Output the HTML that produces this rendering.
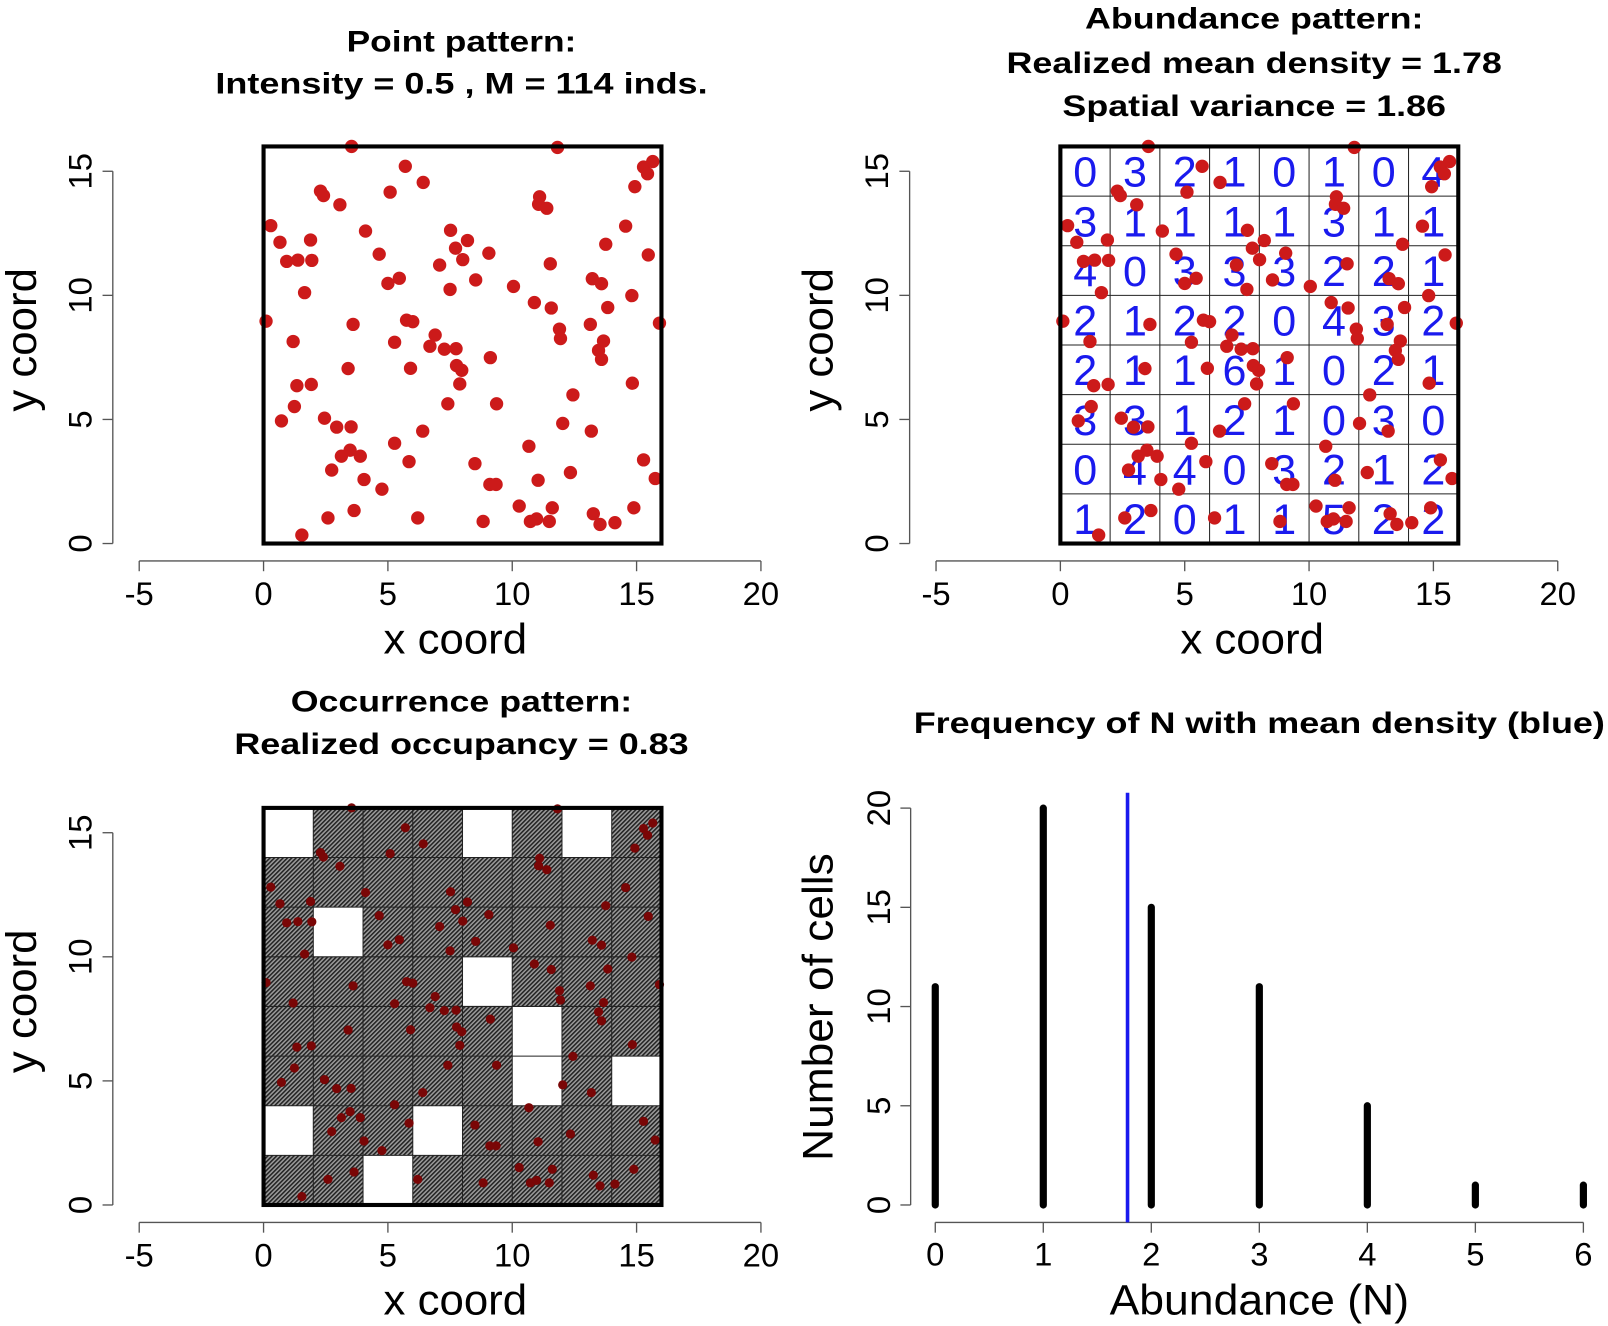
<!DOCTYPE html>
<html><head><meta charset="utf-8"><style>
html,body{margin:0;padding:0;background:#fff}
svg{display:block}
text{font-family:"Liberation Sans",Arial,sans-serif}
.t{font-weight:bold;font-size:29px}
.tick{font-size:32px}
.lab{font-size:42px}
</style></head><body>
<svg id="fig" width="1608" height="1326" viewBox="0 0 1568 1293" xmlns="http://www.w3.org/2000/svg">
<defs>
<pattern id="hatch" width="3" height="3" patternUnits="userSpaceOnUse" patternTransform="rotate(45)">
<rect width="3" height="3" fill="#9c9c9c"/><rect width="1.5" height="3" fill="#222"/>
</pattern>
</defs>
<g id="root"></g>
</svg>
<script>
// ---- data ----
const ptX=[3.54,11.82,5.70,6.42,2.29,2.41,5.09,3.07,11.10,11.06,11.39,15.28,15.44,15.65,14.93,0.29,14.56,0.66,1.89,0.93,1.38,1.94,4.10,4.65,7.52,8.20,7.72,8.01,7.08,9.06,11.53,13.76,15.47,1.65,5.0,5.46,8.53,7.5,10.05,13.22,13.59,14.81,10.89,11.57,13.84,0.10,3.60,5.75,6.0,15.92,11.9,11.94,13.14,13.67,13.47,13.59,1.19,5.27,6.90,6.69,7.27,7.74,9.12,3.40,5.91,7.76,7.97,7.89,1.34,1.92,14.83,12.44,7.41,9.37,1.24,0.72,2.45,2.94,3.52,12.03,13.18,6.40,5.27,10.67,3.13,3.48,3.89,15.28,2.74,4.04,5.85,8.50,11.04,12.34,9.10,9.35,4.76,15.75,10.28,11.61,14.89,3.64,2.59,6.2,8.83,10.73,10.98,11.49,13.26,13.53,14.13,1.54];
const ptY=[16.0,15.96,15.2,14.55,14.2,14.02,14.16,13.65,13.97,13.67,13.51,15.17,14.9,15.39,14.38,12.81,12.79,12.14,12.23,11.37,11.42,11.41,12.59,11.66,12.62,12.21,11.9,11.44,11.22,11.7,11.27,12.06,11.63,10.11,10.48,10.69,10.62,10.24,10.36,10.67,10.47,9.99,9.71,9.49,9.51,8.96,8.83,9.0,8.94,8.88,8.64,8.26,8.83,8.16,7.78,7.42,8.14,8.11,8.4,7.95,7.83,7.85,7.49,7.05,7.06,7.17,6.98,6.43,6.36,6.41,6.46,5.99,5.63,5.63,5.52,4.94,5.05,4.69,4.70,4.84,4.53,4.53,4.04,3.92,3.52,3.76,3.52,3.37,2.96,2.58,3.30,3.22,2.55,2.86,2.38,2.38,2.19,2.62,1.51,1.44,1.44,1.33,1.03,1.03,0.89,0.89,0.99,0.89,1.20,0.77,0.84,0.34];
const counts=[
[0,3,2,1,0,1,0,4],
[3,1,1,1,1,3,1,1],
[4,0,3,3,3,2,2,1],
[2,1,2,2,0,4,3,2],
[2,1,1,6,1,0,2,1],
[3,3,1,2,1,0,3,0],
[0,4,4,0,3,2,1,2],
[1,2,0,1,1,5,2,2]];
const abundCats=[0,1,2,3,4,5,6];
const abundFreq=[11,20,15,11,5,1,1];
const meanDensity=1.78;
const coordTicks=[-5,0,5,10,15,20];
const yCoordTicks=[0,5,10,15];
const freqTicks=[0,5,10,15,20];

const NS="http://www.w3.org/2000/svg";
const root=document.getElementById('root');
function el(tag,attrs,parent,txt){const e=document.createElementNS(NS,tag);for(const k in attrs)e.setAttribute(k,attrs[k]);if(txt!==undefined)e.textContent=txt;(parent||root).appendChild(e);return e;}

function title(lines,cx,ys,ws,name){
  lines.forEach((s,i)=>{const t=el('text',{x:cx,y:ys[i],'text-anchor':'middle',class:'t',textLength:ws[i],lengthAdjust:'spacingAndGlyphs'},root,s);
  
  });
}

function spatialPanel(ox,oy,name,mode){
  const sx=v=>ox+v*24.25, sy=v=>oy-v*24.2;
  const g=el('g',{});
  
  
  const ax=el('g',{},g);
  
  
  const axY=oy+17;
  el('line',{x1:sx(-5),x2:sx(20),y1:axY,y2:axY,stroke:'#555','stroke-width':1.3},ax);
  coordTicks.forEach(v=>{el('line',{x1:sx(v),x2:sx(v),y1:axY,y2:axY+10,stroke:'#555','stroke-width':1.3},ax);
    const t=el('text',{x:sx(v),y:axY+43,'text-anchor':'middle',class:'tick'},ax,String(v));
    
    });
  const xl=el('text',{x:sx(8)-7,y:axY+90,'text-anchor':'middle',class:'lab',textLength:140,lengthAdjust:'spacingAndGlyphs'},ax,'x coord');
  
  
  const ay=el('g',{},g);
  
  
  const axX=ox-147;
  el('line',{x1:axX,x2:axX,y1:sy(0),y2:sy(15),stroke:'#555','stroke-width':1.3},ay);
  yCoordTicks.forEach(v=>{el('line',{x1:axX,x2:axX-10,y1:sy(v),y2:sy(v),stroke:'#555','stroke-width':1.3},ay);
    const t=el('text',{x:0,y:0,'text-anchor':'middle',class:'tick',transform:`translate(${axX-21},${sy(v)}) rotate(-90)`},ay,String(v));
    
    });
  const yl=el('text',{x:0,y:0,'text-anchor':'middle',class:'lab',textLength:140,lengthAdjust:'spacingAndGlyphs',transform:`translate(${ox-222},${sy(8)-5}) rotate(-90)`},ay,'y coord');
  
  
  const cw=2*24.25, ch=2*24.2;
  if(mode==='occ'){
    counts.forEach((row,r)=>row.forEach((c,k)=>{
      const rc=el('rect',{x:sx(k*2),y:sy(16-r*2),width:cw,height:ch,fill:c>0?'url(#hatch)':'#fff'},g);
      
      
    }));
  }
  if(mode!=='pts'){
    for(let i=1;i<8;i++){
      el('line',{x1:sx(i*2),x2:sx(i*2),y1:sy(0),y2:sy(16),stroke:'#222','stroke-width':1},g);
      el('line',{x1:sx(0),x2:sx(16),y1:sy(i*2),y2:sy(i*2),stroke:'#222','stroke-width':1},g);
    }
  }
  if(mode==='abund'){
    counts.forEach((row,r)=>row.forEach((c,k)=>{
      const t=el('text',{x:sx(k*2+1),y:sy(16-r*2-1)+15,'text-anchor':'middle','font-size':'42px',fill:'#1a1aee'},g,String(c));
      
      
    }));
  }
  const r=mode==='occ'?4.5:6.5, col=mode==='occ'?'#7a0606':'#cc1a1a';
  ptX.forEach((x,i)=>{const c=el('circle',{cx:sx(x),cy:sy(ptY[i]),r:r,fill:col},g);
    
    });
  const b=el('rect',{x:sx(0),y:sy(16),width:16*24.25,height:16*24.2,fill:'none',stroke:'#000','stroke-width':4},g);
  
  
}

title(['Point pattern:','Intensity = 0.5 , M = 114 inds.'],450,[50,91],[224,480],'point-pattern-title');
spatialPanel(257,530,'point-pattern-panel','pts');
title(['Abundance pattern:','Realized mean density = 1.78','Spatial variance = 1.86'],1223,[28,71,113],[330,483,374],'abundance-pattern-title');
spatialPanel(1034,530,'abundance-pattern-panel','abund');
title(['Occurrence pattern:','Realized occupancy = 0.83'],450,[694,735],[333,443],'occurrence-pattern-title');
spatialPanel(257,1175,'occurrence-pattern-panel','occ');
title(['Frequency of N with mean density (blue)'],1228,[715],[674],'frequency-title');

(function(){
  const sx=v=>912+v*(1544-912)/6, sy=v=>1175-v*(1175-788)/20;
  const g=el('g',{});
  
  
  const axY=1192;
  el('line',{x1:sx(0),x2:sx(6),y1:axY,y2:axY,stroke:'#555','stroke-width':1.3},g);
  abundCats.forEach(v=>{el('line',{x1:sx(v),x2:sx(v),y1:axY,y2:axY+10,stroke:'#555','stroke-width':1.3},g);
    const t=el('text',{x:sx(v),y:axY+42,'text-anchor':'middle',class:'tick'},g,String(v));
    
    });
  const xl=el('text',{x:1228,y:1282,'text-anchor':'middle',class:'lab',textLength:292,lengthAdjust:'spacingAndGlyphs'},g,'Abundance (N)');
  
  
  const axX=888;
  el('line',{x1:axX,x2:axX,y1:sy(0),y2:sy(20),stroke:'#555','stroke-width':1.3},g);
  freqTicks.forEach(v=>{el('line',{x1:axX,x2:axX-10,y1:sy(v),y2:sy(v),stroke:'#555','stroke-width':1.3},g);
    const t=el('text',{x:0,y:0,'text-anchor':'middle',class:'tick',transform:`translate(${axX-20},${sy(v)}) rotate(-90)`},g,String(v));
    
    });
  const yl=el('text',{x:0,y:0,'text-anchor':'middle',class:'lab',textLength:300,lengthAdjust:'spacingAndGlyphs',transform:`translate(812,982) rotate(-90)`},g,'Number of cells');
  
  
  abundCats.forEach((v,i)=>{const l=el('line',{x1:sx(v),x2:sx(v),y1:sy(0),y2:sy(abundFreq[i]),stroke:'#000','stroke-width':7,'stroke-linecap':'round'},g);
    
    });
  const m=el('line',{x1:sx(meanDensity),x2:sx(meanDensity),y1:axY,y2:773,stroke:'#1a1aee','stroke-width':3.5},g);
  
  
})();
</script>
</body></html>
